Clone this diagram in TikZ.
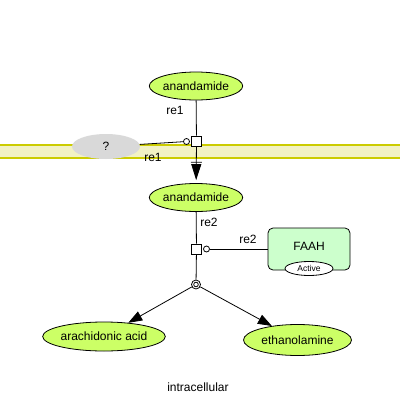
\documentclass[tikz,border=0pt]{standalone}
\usepackage{fontspec}
\setmainfont{Liberation Sans}
\usepackage{xcolor}
\usetikzlibrary{arrows.meta,shapes.geometric}

\definecolor{molgreen}{RGB}{204,255,102}
\definecolor{faahgreen}{RGB}{204,255,204}
\definecolor{memline}{RGB}{204,204,0}
\definecolor{memfill}{RGB}{242,242,196}

\begin{document}
\begin{tikzpicture}[x=1pt, y=-1pt, line width=0.8pt,
    every node/.style={font=\fontsize{12}{14}\selectfont},
    mol/.style={ellipse, draw, fill=molgreen, inner sep=0pt},
    rxn/.style={rectangle, draw, fill=white, minimum size=10pt, inner sep=0pt},
    modc/.style={circle, draw, fill=white, minimum size=6pt, inner sep=0pt},
    prodarrow/.style={-{Triangle[length=14pt,width=10pt]}}]
          \useasboundingbox (0,0) rectangle (400,400);

          \fill[memfill] (0,146) rectangle (400,158);
          \draw[memline, line width=2pt] (0,145) -- (400,145);
          \draw[memline, line width=1.2pt] (0,158) -- (400,158);

          \node[ellipse, fill=gray!30, minimum width=68pt, minimum height=25pt, inner sep=0pt] (unk) at (106,146.5) {?};
          \node[mol, minimum width=91pt, minimum height=28pt] (ana1) at (196,86) {anandamide};
          \node[mol, minimum width=91pt, minimum height=28pt] (ana2) at (196,197.5) {anandamide};
          \node[mol, minimum width=118pt, minimum height=29pt] (aa) at (104,336.5) {arachidonic acid};
          \node[mol, minimum width=108pt, minimum height=31pt] (eth) at (297.5,340) {ethanolamine};

          \node[rxn] (re1) at (196.5,141) {};
          \node[modc] (m1) at (186.5,141.5) {};
          \node[rxn] (re2) at (196.5,249) {};
          \node[modc] (m2) at (206.5,249) {};
          \node[circle, draw, fill=white, minimum size=9pt, inner sep=0pt] (split) at (196,284.5) {};

          \node[draw, rounded corners=5pt, fill=faahgreen, minimum width=82pt, minimum height=42pt] (faah) at (309,249) {};
          \node (faahtxt) at (309,246) {FAAH};
          \node[ellipse, draw, fill=white, minimum width=48pt, minimum height=14pt, inner sep=0pt,
                font=\fontsize{8.5}{10}\selectfont] (act) at (309,268.5) {Active};

          \node (lre1a) at (175,110) {re1};
          \node (lre1b) at (153,157) {re1};
          \node (lre2a) at (209,222) {re2};
          \node (lre2b) at (248,239) {re2};
          \node (loc) at (198,387) {intracellular};

          \draw (split.center) circle (2.3pt);
          \draw (ana1) -- (re1);
          \draw[-{Bar[width=11pt,sep=1.5pt]Triangle[length=16pt,width=10pt]}, shorten >=3pt] (re1) -- (ana2);
          \draw (unk) -- (m1);
          \draw (ana2) -- (re2);
          \draw (m2) -- (faah);
          \draw (re2) -- (split);
          \draw[prodarrow] (split) -- (aa);
          \draw[prodarrow] (split) -- (eth);
        \end{tikzpicture}
\end{document}
